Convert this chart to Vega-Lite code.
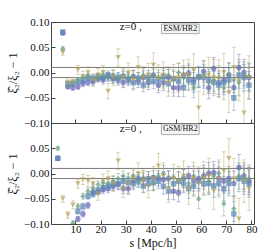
{
"$schema":"https://vega.github.io/schema/vega-lite/v6.json",
"padding":{"left":6,"top":15,"right":4,"bottom":2},
"spacing":0,
"bounds":"flush",
"config":{
 "view":{"stroke":"#444","strokeWidth":1},
 "font":"Liberation Serif",
 "axis":{"labelFont":"Liberation Serif","labelFontSize":11,"labelColor":"#111","labelOverlap":false,"labelBound":false,"labelFlush":false,"titleFont":"Liberation Serif","titleFontSize":12,"titleFontWeight":"normal","titleColor":"#111","domain":false,"grid":false,"tickColor":"#444","tickSize":-4,"labelPadding":6}
},
"datasets":{"pts":[
{"p":"E","g":"A","s":5,"v":0.078,"e":0.004},{"p":"E","g":"A","s":7,"v":-0.028,"e":0.004},{"p":"E","g":"A","s":9,"v":-0.03,"e":0.005},{"p":"E","g":"A","s":11,"v":-0.028,"e":0.005},{"p":"E","g":"A","s":13,"v":-0.022,"e":0.006},{"p":"E","g":"A","s":15,"v":-0.02,"e":0.006},{"p":"E","g":"A","s":17,"v":-0.018,"e":0.007},{"p":"E","g":"A","s":19,"v":-0.012,"e":0.007},{"p":"E","g":"A","s":21,"v":-0.015,"e":0.008},{"p":"E","g":"A","s":23,"v":-0.008,"e":0.008},{"p":"E","g":"A","s":25,"v":-0.012,"e":0.009},{"p":"E","g":"A","s":27,"v":-0.015,"e":0.01},{"p":"E","g":"A","s":29,"v":-0.02,"e":0.01},{"p":"E","g":"A","s":31,"v":-0.012,"e":0.011},{"p":"E","g":"A","s":33,"v":-0.008,"e":0.012},{"p":"E","g":"A","s":35,"v":-0.018,"e":0.012},{"p":"E","g":"A","s":37,"v":-0.01,"e":0.013},{"p":"E","g":"A","s":39,"v":-0.02,"e":0.014},{"p":"E","g":"A","s":41,"v":-0.005,"e":0.014},{"p":"E","g":"A","s":43,"v":-0.025,"e":0.015},{"p":"E","g":"A","s":45,"v":-0.02,"e":0.016},{"p":"E","g":"A","s":47,"v":-0.01,"e":0.016},{"p":"E","g":"A","s":49,"v":-0.03,"e":0.017},{"p":"E","g":"A","s":51,"v":-0.03,"e":0.018},{"p":"E","g":"A","s":53,"v":-0.005,"e":0.018},{"p":"E","g":"A","s":55,"v":-0.002,"e":0.019},{"p":"E","g":"A","s":57,"v":-0.015,"e":0.02},{"p":"E","g":"A","s":59,"v":-0.01,"e":0.02},{"p":"E","g":"A","s":61,"v":0.002,"e":0.021},{"p":"E","g":"A","s":63,"v":-0.03,"e":0.022},{"p":"E","g":"A","s":65,"v":0.008,"e":0.022},{"p":"E","g":"A","s":67,"v":-0.02,"e":0.023},{"p":"E","g":"A","s":69,"v":-0.015,"e":0.024},{"p":"E","g":"A","s":71,"v":-0.005,"e":0.024},{"p":"E","g":"A","s":73,"v":-0.03,"e":0.025},{"p":"E","g":"A","s":75,"v":0.01,"e":0.026},{"p":"E","g":"A","s":77,"v":0.0,"e":0.026},{"p":"E","g":"A","s":79,"v":-0.01,"e":0.027},
{"p":"E","g":"B","s":5,"v":0.08,"e":0.004},{"p":"E","g":"B","s":7,"v":-0.022,"e":0.004},{"p":"E","g":"B","s":9,"v":-0.022,"e":0.005},{"p":"E","g":"B","s":11,"v":-0.018,"e":0.005},{"p":"E","g":"B","s":13,"v":-0.015,"e":0.006},{"p":"E","g":"B","s":15,"v":-0.01,"e":0.006},{"p":"E","g":"B","s":17,"v":-0.012,"e":0.007},{"p":"E","g":"B","s":19,"v":-0.008,"e":0.007},{"p":"E","g":"B","s":21,"v":-0.01,"e":0.008},{"p":"E","g":"B","s":23,"v":-0.005,"e":0.008},{"p":"E","g":"B","s":25,"v":-0.012,"e":0.009},{"p":"E","g":"B","s":27,"v":-0.01,"e":0.01},{"p":"E","g":"B","s":29,"v":-0.008,"e":0.01},{"p":"E","g":"B","s":31,"v":-0.015,"e":0.011},{"p":"E","g":"B","s":33,"v":-0.02,"e":0.012},{"p":"E","g":"B","s":35,"v":-0.012,"e":0.012},{"p":"E","g":"B","s":37,"v":-0.025,"e":0.013},{"p":"E","g":"B","s":39,"v":-0.01,"e":0.014},{"p":"E","g":"B","s":41,"v":-0.018,"e":0.014},{"p":"E","g":"B","s":43,"v":-0.015,"e":0.015},{"p":"E","g":"B","s":45,"v":-0.008,"e":0.016},{"p":"E","g":"B","s":47,"v":-0.022,"e":0.016},{"p":"E","g":"B","s":49,"v":-0.012,"e":0.017},{"p":"E","g":"B","s":51,"v":-0.018,"e":0.018},{"p":"E","g":"B","s":53,"v":-0.03,"e":0.018},{"p":"E","g":"B","s":55,"v":-0.015,"e":0.019},{"p":"E","g":"B","s":57,"v":-0.02,"e":0.02},{"p":"E","g":"B","s":59,"v":-0.008,"e":0.02},{"p":"E","g":"B","s":61,"v":-0.01,"e":0.021},{"p":"E","g":"B","s":63,"v":-0.015,"e":0.022},{"p":"E","g":"B","s":65,"v":-0.02,"e":0.022},{"p":"E","g":"B","s":67,"v":-0.025,"e":0.023},{"p":"E","g":"B","s":69,"v":-0.02,"e":0.024},{"p":"E","g":"B","s":71,"v":-0.015,"e":0.024},{"p":"E","g":"B","s":73,"v":-0.05,"e":0.025},{"p":"E","g":"B","s":75,"v":-0.005,"e":0.026},{"p":"E","g":"B","s":77,"v":-0.01,"e":0.026},{"p":"E","g":"B","s":79,"v":-0.025,"e":0.027},
{"p":"E","g":"C","s":5,"v":0.047,"e":0.004},{"p":"E","g":"C","s":7,"v":-0.025,"e":0.004},{"p":"E","g":"C","s":9,"v":-0.02,"e":0.005},{"p":"E","g":"C","s":11,"v":-0.015,"e":0.005},{"p":"E","g":"C","s":13,"v":-0.01,"e":0.006},{"p":"E","g":"C","s":15,"v":-0.008,"e":0.006},{"p":"E","g":"C","s":17,"v":-0.012,"e":0.007},{"p":"E","g":"C","s":19,"v":-0.01,"e":0.007},{"p":"E","g":"C","s":21,"v":-0.005,"e":0.008},{"p":"E","g":"C","s":23,"v":-0.01,"e":0.008},{"p":"E","g":"C","s":25,"v":-0.005,"e":0.009},{"p":"E","g":"C","s":27,"v":-0.012,"e":0.01},{"p":"E","g":"C","s":29,"v":-0.005,"e":0.01},{"p":"E","g":"C","s":31,"v":-0.01,"e":0.011},{"p":"E","g":"C","s":33,"v":-0.008,"e":0.012},{"p":"E","g":"C","s":35,"v":-0.012,"e":0.012},{"p":"E","g":"C","s":37,"v":-0.005,"e":0.013},{"p":"E","g":"C","s":39,"v":-0.015,"e":0.014},{"p":"E","g":"C","s":41,"v":-0.008,"e":0.014},{"p":"E","g":"C","s":43,"v":-0.01,"e":0.015},{"p":"E","g":"C","s":45,"v":-0.012,"e":0.016},{"p":"E","g":"C","s":47,"v":-0.005,"e":0.016},{"p":"E","g":"C","s":49,"v":-0.015,"e":0.017},{"p":"E","g":"C","s":51,"v":0.0,"e":0.018},{"p":"E","g":"C","s":53,"v":-0.01,"e":0.018},{"p":"E","g":"C","s":55,"v":-0.005,"e":0.019},{"p":"E","g":"C","s":57,"v":-0.03,"e":0.02},{"p":"E","g":"C","s":59,"v":-0.01,"e":0.02},{"p":"E","g":"C","s":61,"v":-0.005,"e":0.021},{"p":"E","g":"C","s":63,"v":-0.02,"e":0.022},{"p":"E","g":"C","s":65,"v":-0.015,"e":0.022},{"p":"E","g":"C","s":67,"v":-0.01,"e":0.023},{"p":"E","g":"C","s":69,"v":-0.03,"e":0.024},{"p":"E","g":"C","s":71,"v":-0.005,"e":0.024},{"p":"E","g":"C","s":73,"v":-0.015,"e":0.025},{"p":"E","g":"C","s":75,"v":-0.02,"e":0.026},{"p":"E","g":"C","s":77,"v":-0.005,"e":0.026},{"p":"E","g":"C","s":79,"v":-0.008,"e":0.027},
{"p":"E","g":"D","s":5,"v":0.04,"e":0.006},{"p":"E","g":"D","s":7,"v":-0.02,"e":0.007},{"p":"E","g":"D","s":9,"v":-0.018,"e":0.008},{"p":"E","g":"D","s":11,"v":0.005,"e":0.009},{"p":"E","g":"D","s":13,"v":-0.008,"e":0.01},{"p":"E","g":"D","s":15,"v":0.0,"e":0.011},{"p":"E","g":"D","s":17,"v":-0.015,"e":0.012},{"p":"E","g":"D","s":19,"v":-0.005,"e":0.013},{"p":"E","g":"D","s":21,"v":0.0,"e":0.014},{"p":"E","g":"D","s":23,"v":-0.037,"e":0.015},{"p":"E","g":"D","s":25,"v":-0.01,"e":0.016},{"p":"E","g":"D","s":27,"v":0.03,"e":0.017},{"p":"E","g":"D","s":29,"v":-0.01,"e":0.018},{"p":"E","g":"D","s":31,"v":0.0,"e":0.019},{"p":"E","g":"D","s":33,"v":-0.015,"e":0.02},{"p":"E","g":"D","s":35,"v":0.01,"e":0.021},{"p":"E","g":"D","s":37,"v":-0.01,"e":0.022},{"p":"E","g":"D","s":39,"v":-0.005,"e":0.023},{"p":"E","g":"D","s":41,"v":0.015,"e":0.024},{"p":"E","g":"D","s":43,"v":-0.01,"e":0.025},{"p":"E","g":"D","s":45,"v":-0.005,"e":0.026},{"p":"E","g":"D","s":47,"v":-0.02,"e":0.027},{"p":"E","g":"D","s":49,"v":-0.012,"e":0.028},{"p":"E","g":"D","s":51,"v":-0.01,"e":0.029},{"p":"E","g":"D","s":53,"v":-0.005,"e":0.03},{"p":"E","g":"D","s":55,"v":-0.005,"e":0.031},{"p":"E","g":"D","s":57,"v":0.005,"e":0.032},{"p":"E","g":"D","s":59,"v":-0.07,"e":0.033},{"p":"E","g":"D","s":61,"v":-0.01,"e":0.034},{"p":"E","g":"D","s":63,"v":-0.005,"e":0.035},{"p":"E","g":"D","s":65,"v":-0.01,"e":0.036},{"p":"E","g":"D","s":67,"v":-0.012,"e":0.037},{"p":"E","g":"D","s":69,"v":0.0,"e":0.038},{"p":"E","g":"D","s":71,"v":-0.04,"e":0.039},{"p":"E","g":"D","s":73,"v":0.01,"e":0.04},{"p":"E","g":"D","s":75,"v":-0.015,"e":0.041},{"p":"E","g":"D","s":77,"v":-0.08,"e":0.042},{"p":"E","g":"D","s":79,"v":-0.01,"e":0.043},
{"p":"G","g":"A","s":3,"v":0.03,"e":0.004},{"p":"G","g":"A","s":5,"v":-0.15,"e":0.004},{"p":"G","g":"A","s":7,"v":-0.14,"e":0.004},{"p":"G","g":"A","s":9,"v":-0.12,"e":0.005},{"p":"G","g":"A","s":11,"v":-0.09,"e":0.005},{"p":"G","g":"A","s":13,"v":-0.08,"e":0.006},{"p":"G","g":"A","s":15,"v":-0.063,"e":0.006},{"p":"G","g":"A","s":17,"v":-0.038,"e":0.007},{"p":"G","g":"A","s":19,"v":-0.035,"e":0.007},{"p":"G","g":"A","s":21,"v":-0.032,"e":0.008},{"p":"G","g":"A","s":23,"v":-0.03,"e":0.008},{"p":"G","g":"A","s":25,"v":-0.025,"e":0.009},{"p":"G","g":"A","s":27,"v":-0.022,"e":0.01},{"p":"G","g":"A","s":29,"v":-0.03,"e":0.01},{"p":"G","g":"A","s":31,"v":-0.03,"e":0.011},{"p":"G","g":"A","s":33,"v":-0.015,"e":0.012},{"p":"G","g":"A","s":35,"v":-0.01,"e":0.012},{"p":"G","g":"A","s":37,"v":-0.012,"e":0.013},{"p":"G","g":"A","s":39,"v":-0.01,"e":0.014},{"p":"G","g":"A","s":41,"v":-0.008,"e":0.014},{"p":"G","g":"A","s":43,"v":-0.01,"e":0.015},{"p":"G","g":"A","s":45,"v":-0.012,"e":0.016},{"p":"G","g":"A","s":47,"v":-0.01,"e":0.016},{"p":"G","g":"A","s":49,"v":-0.035,"e":0.017},{"p":"G","g":"A","s":51,"v":-0.038,"e":0.018},{"p":"G","g":"A","s":53,"v":-0.01,"e":0.018},{"p":"G","g":"A","s":55,"v":-0.005,"e":0.019},{"p":"G","g":"A","s":57,"v":-0.015,"e":0.02},{"p":"G","g":"A","s":59,"v":-0.01,"e":0.02},{"p":"G","g":"A","s":61,"v":-0.005,"e":0.021},{"p":"G","g":"A","s":63,"v":0.0,"e":0.022},{"p":"G","g":"A","s":65,"v":0.002,"e":0.022},{"p":"G","g":"A","s":67,"v":-0.01,"e":0.023},{"p":"G","g":"A","s":69,"v":-0.015,"e":0.024},{"p":"G","g":"A","s":71,"v":-0.01,"e":0.024},{"p":"G","g":"A","s":73,"v":-0.02,"e":0.025},{"p":"G","g":"A","s":75,"v":0.012,"e":0.026},{"p":"G","g":"A","s":77,"v":-0.005,"e":0.026},{"p":"G","g":"A","s":79,"v":-0.015,"e":0.027},
{"p":"G","g":"B","s":3,"v":0.03,"e":0.004},{"p":"G","g":"B","s":5,"v":-0.14,"e":0.004},{"p":"G","g":"B","s":7,"v":-0.12,"e":0.004},{"p":"G","g":"B","s":9,"v":-0.105,"e":0.005},{"p":"G","g":"B","s":11,"v":-0.075,"e":0.005},{"p":"G","g":"B","s":13,"v":-0.065,"e":0.006},{"p":"G","g":"B","s":15,"v":-0.045,"e":0.006},{"p":"G","g":"B","s":17,"v":-0.04,"e":0.007},{"p":"G","g":"B","s":19,"v":-0.035,"e":0.007},{"p":"G","g":"B","s":21,"v":-0.028,"e":0.008},{"p":"G","g":"B","s":23,"v":-0.025,"e":0.008},{"p":"G","g":"B","s":25,"v":-0.022,"e":0.009},{"p":"G","g":"B","s":27,"v":-0.02,"e":0.01},{"p":"G","g":"B","s":29,"v":-0.015,"e":0.01},{"p":"G","g":"B","s":31,"v":-0.018,"e":0.011},{"p":"G","g":"B","s":33,"v":-0.02,"e":0.012},{"p":"G","g":"B","s":35,"v":-0.015,"e":0.012},{"p":"G","g":"B","s":37,"v":-0.025,"e":0.013},{"p":"G","g":"B","s":39,"v":-0.02,"e":0.014},{"p":"G","g":"B","s":41,"v":-0.018,"e":0.014},{"p":"G","g":"B","s":43,"v":-0.015,"e":0.015},{"p":"G","g":"B","s":45,"v":-0.025,"e":0.016},{"p":"G","g":"B","s":47,"v":-0.035,"e":0.016},{"p":"G","g":"B","s":49,"v":-0.02,"e":0.017},{"p":"G","g":"B","s":51,"v":-0.015,"e":0.018},{"p":"G","g":"B","s":53,"v":-0.02,"e":0.018},{"p":"G","g":"B","s":55,"v":-0.03,"e":0.019},{"p":"G","g":"B","s":57,"v":-0.025,"e":0.02},{"p":"G","g":"B","s":59,"v":-0.015,"e":0.02},{"p":"G","g":"B","s":61,"v":-0.02,"e":0.021},{"p":"G","g":"B","s":63,"v":-0.02,"e":0.022},{"p":"G","g":"B","s":65,"v":-0.025,"e":0.022},{"p":"G","g":"B","s":67,"v":-0.02,"e":0.023},{"p":"G","g":"B","s":69,"v":-0.03,"e":0.024},{"p":"G","g":"B","s":71,"v":-0.02,"e":0.024},{"p":"G","g":"B","s":73,"v":-0.08,"e":0.025},{"p":"G","g":"B","s":75,"v":-0.01,"e":0.026},{"p":"G","g":"B","s":77,"v":-0.015,"e":0.026},{"p":"G","g":"B","s":79,"v":-0.02,"e":0.027},
{"p":"G","g":"C","s":3,"v":0.05,"e":0.004},{"p":"G","g":"C","s":5,"v":-0.13,"e":0.004},{"p":"G","g":"C","s":7,"v":-0.11,"e":0.004},{"p":"G","g":"C","s":9,"v":-0.098,"e":0.005},{"p":"G","g":"C","s":11,"v":-0.065,"e":0.005},{"p":"G","g":"C","s":13,"v":-0.045,"e":0.006},{"p":"G","g":"C","s":15,"v":-0.035,"e":0.006},{"p":"G","g":"C","s":17,"v":-0.028,"e":0.007},{"p":"G","g":"C","s":19,"v":-0.022,"e":0.007},{"p":"G","g":"C","s":21,"v":-0.018,"e":0.008},{"p":"G","g":"C","s":23,"v":-0.02,"e":0.008},{"p":"G","g":"C","s":25,"v":-0.015,"e":0.009},{"p":"G","g":"C","s":27,"v":-0.01,"e":0.01},{"p":"G","g":"C","s":29,"v":-0.005,"e":0.01},{"p":"G","g":"C","s":31,"v":-0.01,"e":0.011},{"p":"G","g":"C","s":33,"v":-0.005,"e":0.012},{"p":"G","g":"C","s":35,"v":-0.015,"e":0.012},{"p":"G","g":"C","s":37,"v":-0.008,"e":0.013},{"p":"G","g":"C","s":39,"v":-0.01,"e":0.014},{"p":"G","g":"C","s":41,"v":-0.02,"e":0.014},{"p":"G","g":"C","s":43,"v":-0.005,"e":0.015},{"p":"G","g":"C","s":45,"v":0.0,"e":0.016},{"p":"G","g":"C","s":47,"v":-0.012,"e":0.016},{"p":"G","g":"C","s":49,"v":-0.008,"e":0.017},{"p":"G","g":"C","s":51,"v":-0.015,"e":0.018},{"p":"G","g":"C","s":53,"v":-0.01,"e":0.018},{"p":"G","g":"C","s":55,"v":-0.02,"e":0.019},{"p":"G","g":"C","s":57,"v":-0.005,"e":0.02},{"p":"G","g":"C","s":59,"v":-0.05,"e":0.02},{"p":"G","g":"C","s":61,"v":-0.01,"e":0.021},{"p":"G","g":"C","s":63,"v":-0.015,"e":0.022},{"p":"G","g":"C","s":65,"v":-0.005,"e":0.022},{"p":"G","g":"C","s":67,"v":0.0,"e":0.023},{"p":"G","g":"C","s":69,"v":-0.06,"e":0.024},{"p":"G","g":"C","s":71,"v":-0.015,"e":0.024},{"p":"G","g":"C","s":73,"v":-0.07,"e":0.025},{"p":"G","g":"C","s":75,"v":-0.005,"e":0.026},{"p":"G","g":"C","s":77,"v":-0.01,"e":0.026},{"p":"G","g":"C","s":79,"v":-0.01,"e":0.027},
{"p":"G","g":"D","s":5,"v":-0.05,"e":0.007},{"p":"G","g":"D","s":7,"v":-0.082,"e":0.007},{"p":"G","g":"D","s":9,"v":-0.062,"e":0.008},{"p":"G","g":"D","s":11,"v":-0.02,"e":0.009},{"p":"G","g":"D","s":13,"v":-0.012,"e":0.01},{"p":"G","g":"D","s":15,"v":-0.015,"e":0.011},{"p":"G","g":"D","s":17,"v":-0.02,"e":0.012},{"p":"G","g":"D","s":19,"v":-0.04,"e":0.013},{"p":"G","g":"D","s":21,"v":-0.015,"e":0.014},{"p":"G","g":"D","s":23,"v":-0.01,"e":0.015},{"p":"G","g":"D","s":25,"v":-0.02,"e":0.016},{"p":"G","g":"D","s":27,"v":0.025,"e":0.017},{"p":"G","g":"D","s":29,"v":-0.03,"e":0.018},{"p":"G","g":"D","s":31,"v":-0.02,"e":0.019},{"p":"G","g":"D","s":33,"v":-0.01,"e":0.02},{"p":"G","g":"D","s":35,"v":0.0,"e":0.021},{"p":"G","g":"D","s":37,"v":-0.015,"e":0.022},{"p":"G","g":"D","s":39,"v":-0.025,"e":0.023},{"p":"G","g":"D","s":41,"v":-0.01,"e":0.024},{"p":"G","g":"D","s":43,"v":0.015,"e":0.025},{"p":"G","g":"D","s":45,"v":-0.005,"e":0.026},{"p":"G","g":"D","s":47,"v":-0.03,"e":0.027},{"p":"G","g":"D","s":49,"v":-0.01,"e":0.028},{"p":"G","g":"D","s":51,"v":-0.015,"e":0.029},{"p":"G","g":"D","s":53,"v":-0.005,"e":0.03},{"p":"G","g":"D","s":55,"v":-0.03,"e":0.031},{"p":"G","g":"D","s":57,"v":-0.01,"e":0.032},{"p":"G","g":"D","s":59,"v":-0.02,"e":0.033},{"p":"G","g":"D","s":61,"v":-0.01,"e":0.034},{"p":"G","g":"D","s":63,"v":-0.005,"e":0.035},{"p":"G","g":"D","s":65,"v":-0.035,"e":0.036},{"p":"G","g":"D","s":67,"v":-0.01,"e":0.037},{"p":"G","g":"D","s":69,"v":0.005,"e":0.038},{"p":"G","g":"D","s":71,"v":0.03,"e":0.039},{"p":"G","g":"D","s":73,"v":-0.01,"e":0.04},{"p":"G","g":"D","s":75,"v":-0.09,"e":0.041},{"p":"G","g":"D","s":77,"v":-0.015,"e":0.042},{"p":"G","g":"D","s":79,"v":-0.03,"e":0.043}
]},
"vconcat":[
 {"width":203,"height":101,
  "layer":[
   {"data":{"values":[{"y":0.01},{"y":-0.01}]},"mark":{"type":"rule","color":"#7a7a7a","strokeWidth":1},"encoding":{"y":{"field":"y","type":"quantitative","scale":{"domain":[-0.1,0.1],"nice":false},"axis":{"values":[-0.1,-0.05,0,0.05,0.1],"labelOverlap":false,"labelExpr":"replace(format(datum.value,'.2f'),'-','−')","title":"ξ̂₂/ξ₂ − 1","titlePadding":4}}}},
   {"data":{"name":"pts"},"transform":[{"filter":"datum.p == 'E'"}],
    "mark":{"type":"errorbar","ticks":{"size":4},"clip":true,"opacity":0.45},
    "encoding":{"x":{"field":"s","type":"quantitative","scale":{"domain":[0.3,81],"nice":false,"zero":false},"axis":{"values":[10,20,30,40,50,60,70,80],"labels":false,"title":null,"labelPadding":0,"minExtent":0,"maxExtent":0}},
     "y":{"field":"v","type":"quantitative","axis":{"values":[-0.1,-0.05,0,0.05,0.1],"labelOverlap":false,"labelExpr":"replace(format(datum.value,'.2f'),'-','−')","title":"ξ̂₂/ξ₂ − 1","titlePadding":4}},
     "yError":{"field":"e"},
     "color":{"field":"g","type":"nominal","legend":null,"scale":{"domain":["A","B","C","D"],"range":["#6a6ab6","#5b88b6","#6b9f86","#b4a35a"]}}}},
   {"data":{"name":"pts"},"transform":[{"filter":"datum.p == 'E'"}],
    "mark":{"type":"point","filled":true,"size":30,"opacity":0.7,"clip":true},
    "encoding":{"x":{"field":"s","type":"quantitative","axis":{"values":[10,20,30,40,50,60,70,80],"labels":false,"title":null,"labelPadding":0,"minExtent":0,"maxExtent":0}},
     "y":{"field":"v","type":"quantitative","axis":{"values":[-0.1,-0.05,0,0.05,0.1],"labelOverlap":false,"labelExpr":"replace(format(datum.value,'.2f'),'-','−')","title":"ξ̂₂/ξ₂ − 1","titlePadding":4}},
     "shape":{"field":"g","type":"nominal","legend":null,"scale":{"domain":["A","B","C","D"],"range":["circle","square","diamond","triangle-down"]}},
     "color":{"field":"g","type":"nominal","legend":null}}},
   {"data":{"values":[{"x1":44.2,"x2":59.2,"y1":0.096,"y2":0.077,"xt":51.7,"yt":0.0865,"t":"ESM/HR2","xz":32,"yz":0.091,"z":"z=0 ,"}]},
    "layer":[
     {"mark":{"type":"rect","fill":"#f5f5f5","stroke":"#aaa","strokeWidth":1},
      "encoding":{"x":{"field":"x1","type":"quantitative","axis":{"values":[10,20,30,40,50,60,70,80],"labels":false,"title":null,"labelPadding":0,"minExtent":0,"maxExtent":0}},"x2":{"field":"x2"},"y":{"field":"y1","type":"quantitative","axis":{"values":[-0.1,-0.05,0,0.05,0.1],"labelOverlap":false,"labelExpr":"replace(format(datum.value,'.2f'),'-','−')","title":"ξ̂₂/ξ₂ − 1","titlePadding":4}},"y2":{"field":"y2"}}},
     {"mark":{"type":"text","font":"Liberation Serif","fontSize":8,"color":"#111","baseline":"middle"},
      "encoding":{"x":{"field":"xt","type":"quantitative","axis":{"values":[10,20,30,40,50,60,70,80],"labels":false,"title":null,"labelPadding":0,"minExtent":0,"maxExtent":0}},"y":{"field":"yt","type":"quantitative","axis":{"values":[-0.1,-0.05,0,0.05,0.1],"labelOverlap":false,"labelExpr":"replace(format(datum.value,'.2f'),'-','−')","title":"ξ̂₂/ξ₂ − 1","titlePadding":4}},"text":{"field":"t"}}},
     {"mark":{"type":"text","font":"Liberation Serif","fontSize":11,"color":"#111","baseline":"middle"},
      "encoding":{"x":{"field":"xz","type":"quantitative","axis":{"values":[10,20,30,40,50,60,70,80],"labels":false,"title":null,"labelPadding":0,"minExtent":0,"maxExtent":0}},"y":{"field":"yz","type":"quantitative","axis":{"values":[-0.1,-0.05,0,0.05,0.1],"labelOverlap":false,"labelExpr":"replace(format(datum.value,'.2f'),'-','−')","title":"ξ̂₂/ξ₂ − 1","titlePadding":4}},"text":{"field":"z"}}}
    ]}
  ]},
 {"width":203,"height":101,
  "layer":[
   {"data":{"values":[{"y":0.01},{"y":-0.01}]},"mark":{"type":"rule","color":"#7a7a7a","strokeWidth":1},"encoding":{"y":{"field":"y","type":"quantitative","scale":{"domain":[-0.1,0.1],"nice":false},"axis":{"values":[-0.1,-0.05,0,0.05],"labelOverlap":false,"labelExpr":"replace(format(datum.value,'.2f'),'-','−')","title":"ξ̂₂/ξ₂ − 1","titlePadding":4}}}},
   {"data":{"name":"pts"},"transform":[{"filter":"datum.p == 'G'"}],
    "mark":{"type":"errorbar","ticks":{"size":4},"clip":true,"opacity":0.45},
    "encoding":{"x":{"field":"s","type":"quantitative","scale":{"domain":[0.3,81],"nice":false,"zero":false},"axis":{"values":[10,20,30,40,50,60,70,80],"labelOverlap":false,"labelPadding":3,"title":"s  [Mpc/h]","titlePadding":3}},
     "y":{"field":"v","type":"quantitative","axis":{"values":[-0.1,-0.05,0,0.05],"labelOverlap":false,"labelExpr":"replace(format(datum.value,'.2f'),'-','−')","title":"ξ̂₂/ξ₂ − 1","titlePadding":4}},
     "yError":{"field":"e"},
     "color":{"field":"g","type":"nominal","legend":null,"scale":{"domain":["A","B","C","D"],"range":["#6a6ab6","#5b88b6","#6b9f86","#b4a35a"]}}}},
   {"data":{"name":"pts"},"transform":[{"filter":"datum.p == 'G'"}],
    "mark":{"type":"point","filled":true,"size":30,"opacity":0.7,"clip":true},
    "encoding":{"x":{"field":"s","type":"quantitative","axis":{"values":[10,20,30,40,50,60,70,80],"labelOverlap":false,"labelPadding":3,"title":"s  [Mpc/h]","titlePadding":3}},
     "y":{"field":"v","type":"quantitative","axis":{"values":[-0.1,-0.05,0,0.05],"labelOverlap":false,"labelExpr":"replace(format(datum.value,'.2f'),'-','−')","title":"ξ̂₂/ξ₂ − 1","titlePadding":4}},
     "shape":{"field":"g","type":"nominal","legend":null,"scale":{"domain":["A","B","C","D"],"range":["circle","square","diamond","triangle-down"]}},
     "color":{"field":"g","type":"nominal","legend":null}}},
   {"data":{"values":[{"x1":44.2,"x2":59.2,"y1":0.098,"y2":0.077,"xt":51.7,"yt":0.0875,"t":"GSM/HR2","xz":32,"yz":0.089,"z":"z=0 ,"}]},
    "layer":[
     {"mark":{"type":"rect","fill":"#f5f5f5","stroke":"#aaa","strokeWidth":1},
      "encoding":{"x":{"field":"x1","type":"quantitative","axis":{"values":[10,20,30,40,50,60,70,80],"labelOverlap":false,"labelPadding":3,"title":"s  [Mpc/h]","titlePadding":3}},"x2":{"field":"x2"},"y":{"field":"y1","type":"quantitative","axis":{"values":[-0.1,-0.05,0,0.05],"labelOverlap":false,"labelExpr":"replace(format(datum.value,'.2f'),'-','−')","title":"ξ̂₂/ξ₂ − 1","titlePadding":4}},"y2":{"field":"y2"}}},
     {"mark":{"type":"text","font":"Liberation Serif","fontSize":8,"color":"#111","baseline":"middle"},
      "encoding":{"x":{"field":"xt","type":"quantitative","axis":{"values":[10,20,30,40,50,60,70,80],"labelOverlap":false,"labelPadding":3,"title":"s  [Mpc/h]","titlePadding":3}},"y":{"field":"yt","type":"quantitative","axis":{"values":[-0.1,-0.05,0,0.05],"labelOverlap":false,"labelExpr":"replace(format(datum.value,'.2f'),'-','−')","title":"ξ̂₂/ξ₂ − 1","titlePadding":4}},"text":{"field":"t"}}},
     {"mark":{"type":"text","font":"Liberation Serif","fontSize":11,"color":"#111","baseline":"middle"},
      "encoding":{"x":{"field":"xz","type":"quantitative","axis":{"values":[10,20,30,40,50,60,70,80],"labelOverlap":false,"labelPadding":3,"title":"s  [Mpc/h]","titlePadding":3}},"y":{"field":"yz","type":"quantitative","axis":{"values":[-0.1,-0.05,0,0.05],"labelOverlap":false,"labelExpr":"replace(format(datum.value,'.2f'),'-','−')","title":"ξ̂₂/ξ₂ − 1","titlePadding":4}},"text":{"field":"z"}}}
    ]}
  ]}
]
}
